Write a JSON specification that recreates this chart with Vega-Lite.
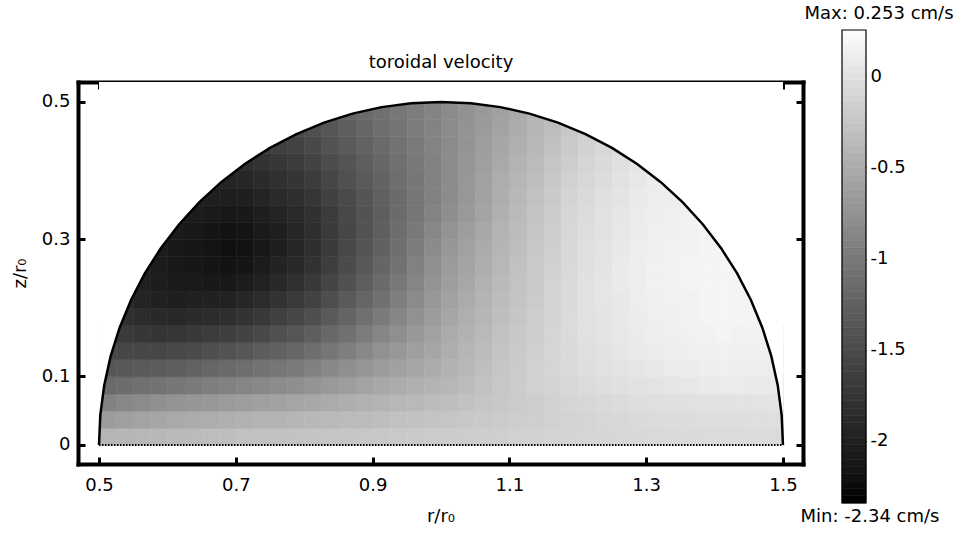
{
"$schema":"https://vega.github.io/schema/vega-lite/v6.json",
"padding":{"left":11,"top":5,"right":2,"bottom":2},
"background":"white",
"width":725,"height":382,
"config":{"font":"DejaVu Sans","view":{"stroke":null},
"axis":{"labelFont":"DejaVu Sans","titleFont":"DejaVu Sans","labelFontSize":18,"titleFontSize":18,"titleFontWeight":"normal","labelColor":"#000","titleColor":"#000","domainColor":"#000","tickColor":"#000","grid":false,"zindex":1}},
"resolve":{"scale":{"x":"independent","y":"independent","color":"independent","stroke":"independent"},"axis":{"x":"independent","y":"independent"}},
"datasets":{
"arc":[{"x":0.5,"z":0},{"x":0.5019,"z":0.04358},{"x":0.5076,"z":0.08682},{"x":0.51704,"z":0.12941},{"x":0.53015,"z":0.17101},{"x":0.54685,"z":0.21131},{"x":0.56699,"z":0.25},{"x":0.59042,"z":0.28679},{"x":0.61698,"z":0.32139},{"x":0.64645,"z":0.35355},{"x":0.67861,"z":0.38302},{"x":0.71321,"z":0.40958},{"x":0.75,"z":0.43301},{"x":0.78869,"z":0.45315},{"x":0.82899,"z":0.46985},{"x":0.87059,"z":0.48296},{"x":0.91318,"z":0.4924},{"x":0.95642,"z":0.4981},{"x":1.0,"z":0.5},{"x":1.04358,"z":0.4981},{"x":1.08682,"z":0.4924},{"x":1.12941,"z":0.48296},{"x":1.17101,"z":0.46985},{"x":1.21131,"z":0.45315},{"x":1.25,"z":0.43301},{"x":1.28679,"z":0.40958},{"x":1.32139,"z":0.38302},{"x":1.35355,"z":0.35355},{"x":1.38302,"z":0.32139},{"x":1.40958,"z":0.28679},{"x":1.43301,"z":0.25},{"x":1.45315,"z":0.21131},{"x":1.46985,"z":0.17101},{"x":1.48296,"z":0.12941},{"x":1.4924,"z":0.08682},{"x":1.4981,"z":0.04358},{"x":1.5,"z":0}],
"base":[{"x":0.5,"z":0},{"x":1.5,"z":0}],
"cells":[
{"x":0.5125,"z":0.0125,"v":-0.43},{"x":0.5375,"z":0.0125,"v":-0.42},{"x":0.5625,"z":0.0125,"v":-0.41},{"x":0.5875,"z":0.0125,"v":-0.4},{"x":0.6125,"z":0.0125,"v":-0.38},{"x":0.6375,"z":0.0125,"v":-0.37},{"x":0.6625,"z":0.0125,"v":-0.35},{"x":0.6875,"z":0.0125,"v":-0.34},{"x":0.7125,"z":0.0125,"v":-0.32},{"x":0.7375,"z":0.0125,"v":-0.32},{"x":0.7625,"z":0.0125,"v":-0.31},{"x":0.7875,"z":0.0125,"v":-0.3},{"x":0.8125,"z":0.0125,"v":-0.29},{"x":0.8375,"z":0.0125,"v":-0.28},{"x":0.8625,"z":0.0125,"v":-0.27},{"x":0.8875,"z":0.0125,"v":-0.26},{"x":0.9125,"z":0.0125,"v":-0.25},{"x":0.9375,"z":0.0125,"v":-0.24},{"x":0.9625,"z":0.0125,"v":-0.23},{"x":0.9875,"z":0.0125,"v":-0.22},{"x":1.0125,"z":0.0125,"v":-0.21},{"x":1.0375,"z":0.0125,"v":-0.2},{"x":1.0625,"z":0.0125,"v":-0.19},{"x":1.0875,"z":0.0125,"v":-0.18},{"x":1.1125,"z":0.0125,"v":-0.17},{"x":1.1375,"z":0.0125,"v":-0.16},{"x":1.1625,"z":0.0125,"v":-0.15},{"x":1.1875,"z":0.0125,"v":-0.14},{"x":1.2125,"z":0.0125,"v":-0.13},{"x":1.2375,"z":0.0125,"v":-0.12},{"x":1.2625,"z":0.0125,"v":-0.11},{"x":1.2875,"z":0.0125,"v":-0.1},{"x":1.3125,"z":0.0125,"v":-0.09},{"x":1.3375,"z":0.0125,"v":-0.08},{"x":1.3625,"z":0.0125,"v":-0.08},{"x":1.3875,"z":0.0125,"v":-0.07},{"x":1.4125,"z":0.0125,"v":-0.07},{"x":1.4375,"z":0.0125,"v":-0.07},{"x":1.4625,"z":0.0125,"v":-0.07},{"x":1.4875,"z":0.0125,"v":-0.07},
{"x":0.5125,"z":0.0375,"v":-0.67},{"x":0.5375,"z":0.0375,"v":-0.64},{"x":0.5625,"z":0.0375,"v":-0.6},{"x":0.5875,"z":0.0375,"v":-0.57},{"x":0.6125,"z":0.0375,"v":-0.54},{"x":0.6375,"z":0.0375,"v":-0.52},{"x":0.6625,"z":0.0375,"v":-0.51},{"x":0.6875,"z":0.0375,"v":-0.49},{"x":0.7125,"z":0.0375,"v":-0.47},{"x":0.7375,"z":0.0375,"v":-0.45},{"x":0.7625,"z":0.0375,"v":-0.44},{"x":0.7875,"z":0.0375,"v":-0.42},{"x":0.8125,"z":0.0375,"v":-0.4},{"x":0.8375,"z":0.0375,"v":-0.39},{"x":0.8625,"z":0.0375,"v":-0.37},{"x":0.8875,"z":0.0375,"v":-0.36},{"x":0.9125,"z":0.0375,"v":-0.34},{"x":0.9375,"z":0.0375,"v":-0.32},{"x":0.9625,"z":0.0375,"v":-0.31},{"x":0.9875,"z":0.0375,"v":-0.29},{"x":1.0125,"z":0.0375,"v":-0.27},{"x":1.0375,"z":0.0375,"v":-0.25},{"x":1.0625,"z":0.0375,"v":-0.24},{"x":1.0875,"z":0.0375,"v":-0.22},{"x":1.1125,"z":0.0375,"v":-0.2},{"x":1.1375,"z":0.0375,"v":-0.18},{"x":1.1625,"z":0.0375,"v":-0.17},{"x":1.1875,"z":0.0375,"v":-0.15},{"x":1.2125,"z":0.0375,"v":-0.13},{"x":1.2375,"z":0.0375,"v":-0.11},{"x":1.2625,"z":0.0375,"v":-0.1},{"x":1.2875,"z":0.0375,"v":-0.08},{"x":1.3125,"z":0.0375,"v":-0.07},{"x":1.3375,"z":0.0375,"v":-0.06},{"x":1.3625,"z":0.0375,"v":-0.06},{"x":1.3875,"z":0.0375,"v":-0.05},{"x":1.4125,"z":0.0375,"v":-0.05},{"x":1.4375,"z":0.0375,"v":-0.05},{"x":1.4625,"z":0.0375,"v":-0.04},{"x":1.4875,"z":0.0375,"v":-0.04},
{"x":0.5125,"z":0.0625,"v":-0.93},{"x":0.5375,"z":0.0625,"v":-0.88},{"x":0.5625,"z":0.0625,"v":-0.84},{"x":0.5875,"z":0.0625,"v":-0.79},{"x":0.6125,"z":0.0625,"v":-0.76},{"x":0.6375,"z":0.0625,"v":-0.73},{"x":0.6625,"z":0.0625,"v":-0.71},{"x":0.6875,"z":0.0625,"v":-0.68},{"x":0.7125,"z":0.0625,"v":-0.66},{"x":0.7375,"z":0.0625,"v":-0.63},{"x":0.7625,"z":0.0625,"v":-0.61},{"x":0.7875,"z":0.0625,"v":-0.58},{"x":0.8125,"z":0.0625,"v":-0.56},{"x":0.8375,"z":0.0625,"v":-0.53},{"x":0.8625,"z":0.0625,"v":-0.5},{"x":0.8875,"z":0.0625,"v":-0.47},{"x":0.9125,"z":0.0625,"v":-0.44},{"x":0.9375,"z":0.0625,"v":-0.41},{"x":0.9625,"z":0.0625,"v":-0.39},{"x":0.9875,"z":0.0625,"v":-0.36},{"x":1.0125,"z":0.0625,"v":-0.34},{"x":1.0375,"z":0.0625,"v":-0.31},{"x":1.0625,"z":0.0625,"v":-0.28},{"x":1.0875,"z":0.0625,"v":-0.25},{"x":1.1125,"z":0.0625,"v":-0.22},{"x":1.1375,"z":0.0625,"v":-0.19},{"x":1.1625,"z":0.0625,"v":-0.16},{"x":1.1875,"z":0.0625,"v":-0.13},{"x":1.2125,"z":0.0625,"v":-0.11},{"x":1.2375,"z":0.0625,"v":-0.09},{"x":1.2625,"z":0.0625,"v":-0.07},{"x":1.2875,"z":0.0625,"v":-0.05},{"x":1.3125,"z":0.0625,"v":-0.04},{"x":1.3375,"z":0.0625,"v":-0.03},{"x":1.3625,"z":0.0625,"v":-0.02},{"x":1.3875,"z":0.0625,"v":-0.01},{"x":1.4125,"z":0.0625,"v":-0.01},{"x":1.4375,"z":0.0625,"v":0.0},{"x":1.4625,"z":0.0625,"v":0.0},{"x":1.4875,"z":0.0625,"v":0.01},
{"x":0.5125,"z":0.0875,"v":-1.18},{"x":0.5375,"z":0.0875,"v":-1.15},{"x":0.5625,"z":0.0875,"v":-1.11},{"x":0.5875,"z":0.0875,"v":-1.08},{"x":0.6125,"z":0.0875,"v":-1.04},{"x":0.6375,"z":0.0875,"v":-1.01},{"x":0.6625,"z":0.0875,"v":-0.97},{"x":0.6875,"z":0.0875,"v":-0.94},{"x":0.7125,"z":0.0875,"v":-0.9},{"x":0.7375,"z":0.0875,"v":-0.87},{"x":0.7625,"z":0.0875,"v":-0.83},{"x":0.7875,"z":0.0875,"v":-0.8},{"x":0.8125,"z":0.0875,"v":-0.75},{"x":0.8375,"z":0.0875,"v":-0.7},{"x":0.8625,"z":0.0875,"v":-0.65},{"x":0.8875,"z":0.0875,"v":-0.6},{"x":0.9125,"z":0.0875,"v":-0.55},{"x":0.9375,"z":0.0875,"v":-0.52},{"x":0.9625,"z":0.0875,"v":-0.48},{"x":0.9875,"z":0.0875,"v":-0.45},{"x":1.0125,"z":0.0875,"v":-0.41},{"x":1.0375,"z":0.0875,"v":-0.36},{"x":1.0625,"z":0.0875,"v":-0.31},{"x":1.0875,"z":0.0875,"v":-0.26},{"x":1.1125,"z":0.0875,"v":-0.21},{"x":1.1375,"z":0.0875,"v":-0.17},{"x":1.1625,"z":0.0875,"v":-0.14},{"x":1.1875,"z":0.0875,"v":-0.1},{"x":1.2125,"z":0.0875,"v":-0.07},{"x":1.2375,"z":0.0875,"v":-0.05},{"x":1.2625,"z":0.0875,"v":-0.03},{"x":1.2875,"z":0.0875,"v":-0.01},{"x":1.3125,"z":0.0875,"v":0.01},{"x":1.3375,"z":0.0875,"v":0.03},{"x":1.3625,"z":0.0875,"v":0.04},{"x":1.3875,"z":0.0875,"v":0.06},{"x":1.4125,"z":0.0875,"v":0.07},{"x":1.4375,"z":0.0875,"v":0.07},{"x":1.4625,"z":0.0875,"v":0.06},{"x":1.4875,"z":0.0875,"v":0.06},
{"x":0.5125,"z":0.1125,"v":-1.39},{"x":0.5375,"z":0.1125,"v":-1.37},{"x":0.5625,"z":0.1125,"v":-1.35},{"x":0.5875,"z":0.1125,"v":-1.33},{"x":0.6125,"z":0.1125,"v":-1.3},{"x":0.6375,"z":0.1125,"v":-1.26},{"x":0.6625,"z":0.1125,"v":-1.22},{"x":0.6875,"z":0.1125,"v":-1.18},{"x":0.7125,"z":0.1125,"v":-1.14},{"x":0.7375,"z":0.1125,"v":-1.09},{"x":0.7625,"z":0.1125,"v":-1.05},{"x":0.7875,"z":0.1125,"v":-1.0},{"x":0.8125,"z":0.1125,"v":-0.94},{"x":0.8375,"z":0.1125,"v":-0.87},{"x":0.8625,"z":0.1125,"v":-0.8},{"x":0.8875,"z":0.1125,"v":-0.73},{"x":0.9125,"z":0.1125,"v":-0.67},{"x":0.9375,"z":0.1125,"v":-0.62},{"x":0.9625,"z":0.1125,"v":-0.57},{"x":0.9875,"z":0.1125,"v":-0.52},{"x":1.0125,"z":0.1125,"v":-0.46},{"x":1.0375,"z":0.1125,"v":-0.4},{"x":1.0625,"z":0.1125,"v":-0.33},{"x":1.0875,"z":0.1125,"v":-0.27},{"x":1.1125,"z":0.1125,"v":-0.22},{"x":1.1375,"z":0.1125,"v":-0.17},{"x":1.1625,"z":0.1125,"v":-0.13},{"x":1.1875,"z":0.1125,"v":-0.08},{"x":1.2125,"z":0.1125,"v":-0.05},{"x":1.2375,"z":0.1125,"v":-0.02},{"x":1.2625,"z":0.1125,"v":0.0},{"x":1.2875,"z":0.1125,"v":0.03},{"x":1.3125,"z":0.1125,"v":0.05},{"x":1.3375,"z":0.1125,"v":0.07},{"x":1.3625,"z":0.1125,"v":0.08},{"x":1.3875,"z":0.1125,"v":0.1},{"x":1.4125,"z":0.1125,"v":0.11},{"x":1.4375,"z":0.1125,"v":0.1},{"x":1.4625,"z":0.1125,"v":0.1},{"x":1.4875,"z":0.1125,"v":0.09},
{"x":0.5125,"z":0.1375,"v":-1.55},{"x":0.5375,"z":0.1375,"v":-1.56},{"x":0.5625,"z":0.1375,"v":-1.56},{"x":0.5875,"z":0.1375,"v":-1.57},{"x":0.6125,"z":0.1375,"v":-1.55},{"x":0.6375,"z":0.1375,"v":-1.51},{"x":0.6625,"z":0.1375,"v":-1.47},{"x":0.6875,"z":0.1375,"v":-1.43},{"x":0.7125,"z":0.1375,"v":-1.38},{"x":0.7375,"z":0.1375,"v":-1.32},{"x":0.7625,"z":0.1375,"v":-1.27},{"x":0.7875,"z":0.1375,"v":-1.21},{"x":0.8125,"z":0.1375,"v":-1.14},{"x":0.8375,"z":0.1375,"v":-1.05},{"x":0.8625,"z":0.1375,"v":-0.96},{"x":0.8875,"z":0.1375,"v":-0.87},{"x":0.9125,"z":0.1375,"v":-0.78},{"x":0.9375,"z":0.1375,"v":-0.71},{"x":0.9625,"z":0.1375,"v":-0.64},{"x":0.9875,"z":0.1375,"v":-0.57},{"x":1.0125,"z":0.1375,"v":-0.5},{"x":1.0375,"z":0.1375,"v":-0.43},{"x":1.0625,"z":0.1375,"v":-0.36},{"x":1.0875,"z":0.1375,"v":-0.29},{"x":1.1125,"z":0.1375,"v":-0.23},{"x":1.1375,"z":0.1375,"v":-0.18},{"x":1.1625,"z":0.1375,"v":-0.13},{"x":1.1875,"z":0.1375,"v":-0.08},{"x":1.2125,"z":0.1375,"v":-0.04},{"x":1.2375,"z":0.1375,"v":-0.01},{"x":1.2625,"z":0.1375,"v":0.03},{"x":1.2875,"z":0.1375,"v":0.06},{"x":1.3125,"z":0.1375,"v":0.08},{"x":1.3375,"z":0.1375,"v":0.09},{"x":1.3625,"z":0.1375,"v":0.11},{"x":1.3875,"z":0.1375,"v":0.12},{"x":1.4125,"z":0.1375,"v":0.13},{"x":1.4375,"z":0.1375,"v":0.12},{"x":1.4625,"z":0.1375,"v":0.12},{"x":1.4875,"z":0.1375,"v":0.11},
{"x":0.5125,"z":0.1625,"v":-1.69},{"x":0.5375,"z":0.1625,"v":-1.71},{"x":0.5625,"z":0.1625,"v":-1.74},{"x":0.5875,"z":0.1625,"v":-1.76},{"x":0.6125,"z":0.1625,"v":-1.75},{"x":0.6375,"z":0.1625,"v":-1.72},{"x":0.6625,"z":0.1625,"v":-1.68},{"x":0.6875,"z":0.1625,"v":-1.65},{"x":0.7125,"z":0.1625,"v":-1.6},{"x":0.7375,"z":0.1625,"v":-1.53},{"x":0.7625,"z":0.1625,"v":-1.46},{"x":0.7875,"z":0.1625,"v":-1.39},{"x":0.8125,"z":0.1625,"v":-1.31},{"x":0.8375,"z":0.1625,"v":-1.2},{"x":0.8625,"z":0.1625,"v":-1.1},{"x":0.8875,"z":0.1625,"v":-0.99},{"x":0.9125,"z":0.1625,"v":-0.89},{"x":0.9375,"z":0.1625,"v":-0.8},{"x":0.9625,"z":0.1625,"v":-0.71},{"x":0.9875,"z":0.1625,"v":-0.62},{"x":1.0125,"z":0.1625,"v":-0.53},{"x":1.0375,"z":0.1625,"v":-0.46},{"x":1.0625,"z":0.1625,"v":-0.39},{"x":1.0875,"z":0.1625,"v":-0.32},{"x":1.1125,"z":0.1625,"v":-0.25},{"x":1.1375,"z":0.1625,"v":-0.19},{"x":1.1625,"z":0.1625,"v":-0.13},{"x":1.1875,"z":0.1625,"v":-0.07},{"x":1.2125,"z":0.1625,"v":-0.02},{"x":1.2375,"z":0.1625,"v":0.01},{"x":1.2625,"z":0.1625,"v":0.04},{"x":1.2875,"z":0.1625,"v":0.07},{"x":1.3125,"z":0.1625,"v":0.1},{"x":1.3375,"z":0.1625,"v":0.11},{"x":1.3625,"z":0.1625,"v":0.13},{"x":1.3875,"z":0.1625,"v":0.14},{"x":1.4125,"z":0.1625,"v":0.15},{"x":1.4375,"z":0.1625,"v":0.14},{"x":1.4625,"z":0.1625,"v":0.14},{"x":1.4875,"z":0.1625,"v":0.13},
{"x":0.5375,"z":0.1875,"v":-1.84},{"x":0.5625,"z":0.1875,"v":-1.87},{"x":0.5875,"z":0.1875,"v":-1.91},{"x":0.6125,"z":0.1875,"v":-1.92},{"x":0.6375,"z":0.1875,"v":-1.89},{"x":0.6625,"z":0.1875,"v":-1.87},{"x":0.6875,"z":0.1875,"v":-1.84},{"x":0.7125,"z":0.1875,"v":-1.79},{"x":0.7375,"z":0.1875,"v":-1.72},{"x":0.7625,"z":0.1875,"v":-1.64},{"x":0.7875,"z":0.1875,"v":-1.57},{"x":0.8125,"z":0.1875,"v":-1.47},{"x":0.8375,"z":0.1875,"v":-1.35},{"x":0.8625,"z":0.1875,"v":-1.24},{"x":0.8875,"z":0.1875,"v":-1.12},{"x":0.9125,"z":0.1875,"v":-1.0},{"x":0.9375,"z":0.1875,"v":-0.89},{"x":0.9625,"z":0.1875,"v":-0.78},{"x":0.9875,"z":0.1875,"v":-0.67},{"x":1.0125,"z":0.1875,"v":-0.57},{"x":1.0375,"z":0.1875,"v":-0.49},{"x":1.0625,"z":0.1875,"v":-0.42},{"x":1.0875,"z":0.1875,"v":-0.34},{"x":1.1125,"z":0.1875,"v":-0.27},{"x":1.1375,"z":0.1875,"v":-0.2},{"x":1.1625,"z":0.1875,"v":-0.14},{"x":1.1875,"z":0.1875,"v":-0.07},{"x":1.2125,"z":0.1875,"v":-0.02},{"x":1.2375,"z":0.1875,"v":0.01},{"x":1.2625,"z":0.1875,"v":0.05},{"x":1.2875,"z":0.1875,"v":0.08},{"x":1.3125,"z":0.1875,"v":0.11},{"x":1.3375,"z":0.1875,"v":0.12},{"x":1.3625,"z":0.1875,"v":0.14},{"x":1.3875,"z":0.1875,"v":0.15},{"x":1.4125,"z":0.1875,"v":0.16},{"x":1.4375,"z":0.1875,"v":0.15},{"x":1.4625,"z":0.1875,"v":0.15},
{"x":0.5375,"z":0.2125,"v":-1.92},{"x":0.5625,"z":0.2125,"v":-1.97},{"x":0.5875,"z":0.2125,"v":-2.01},{"x":0.6125,"z":0.2125,"v":-2.03},{"x":0.6375,"z":0.2125,"v":-2.02},{"x":0.6625,"z":0.2125,"v":-2.01},{"x":0.6875,"z":0.2125,"v":-2.0},{"x":0.7125,"z":0.2125,"v":-1.95},{"x":0.7375,"z":0.2125,"v":-1.87},{"x":0.7625,"z":0.2125,"v":-1.79},{"x":0.7875,"z":0.2125,"v":-1.71},{"x":0.8125,"z":0.2125,"v":-1.61},{"x":0.8375,"z":0.2125,"v":-1.48},{"x":0.8625,"z":0.2125,"v":-1.35},{"x":0.8875,"z":0.2125,"v":-1.22},{"x":0.9125,"z":0.2125,"v":-1.1},{"x":0.9375,"z":0.2125,"v":-0.97},{"x":0.9625,"z":0.2125,"v":-0.84},{"x":0.9875,"z":0.2125,"v":-0.71},{"x":1.0125,"z":0.2125,"v":-0.61},{"x":1.0375,"z":0.2125,"v":-0.53},{"x":1.0625,"z":0.2125,"v":-0.44},{"x":1.0875,"z":0.2125,"v":-0.36},{"x":1.1125,"z":0.2125,"v":-0.29},{"x":1.1375,"z":0.2125,"v":-0.22},{"x":1.1625,"z":0.2125,"v":-0.15},{"x":1.1875,"z":0.2125,"v":-0.08},{"x":1.2125,"z":0.2125,"v":-0.02},{"x":1.2375,"z":0.2125,"v":0.02},{"x":1.2625,"z":0.2125,"v":0.05},{"x":1.2875,"z":0.2125,"v":0.09},{"x":1.3125,"z":0.2125,"v":0.12},{"x":1.3375,"z":0.2125,"v":0.13},{"x":1.3625,"z":0.2125,"v":0.14},{"x":1.3875,"z":0.2125,"v":0.15},{"x":1.4125,"z":0.2125,"v":0.16},{"x":1.4375,"z":0.2125,"v":0.15},{"x":1.4625,"z":0.2125,"v":0.15},
{"x":0.5625,"z":0.2375,"v":-2.02},{"x":0.5875,"z":0.2375,"v":-2.06},{"x":0.6125,"z":0.2375,"v":-2.09},{"x":0.6375,"z":0.2375,"v":-2.1},{"x":0.6625,"z":0.2375,"v":-2.11},{"x":0.6875,"z":0.2375,"v":-2.12},{"x":0.7125,"z":0.2375,"v":-2.08},{"x":0.7375,"z":0.2375,"v":-2.0},{"x":0.7625,"z":0.2375,"v":-1.91},{"x":0.7875,"z":0.2375,"v":-1.83},{"x":0.8125,"z":0.2375,"v":-1.72},{"x":0.8375,"z":0.2375,"v":-1.58},{"x":0.8625,"z":0.2375,"v":-1.45},{"x":0.8875,"z":0.2375,"v":-1.31},{"x":0.9125,"z":0.2375,"v":-1.17},{"x":0.9375,"z":0.2375,"v":-1.03},{"x":0.9625,"z":0.2375,"v":-0.9},{"x":0.9875,"z":0.2375,"v":-0.76},{"x":1.0125,"z":0.2375,"v":-0.65},{"x":1.0375,"z":0.2375,"v":-0.56},{"x":1.0625,"z":0.2375,"v":-0.47},{"x":1.0875,"z":0.2375,"v":-0.38},{"x":1.1125,"z":0.2375,"v":-0.3},{"x":1.1375,"z":0.2375,"v":-0.23},{"x":1.1625,"z":0.2375,"v":-0.15},{"x":1.1875,"z":0.2375,"v":-0.08},{"x":1.2125,"z":0.2375,"v":-0.02},{"x":1.2375,"z":0.2375,"v":0.02},{"x":1.2625,"z":0.2375,"v":0.06},{"x":1.2875,"z":0.2375,"v":0.1},{"x":1.3125,"z":0.2375,"v":0.13},{"x":1.3375,"z":0.2375,"v":0.14},{"x":1.3625,"z":0.2375,"v":0.15},{"x":1.3875,"z":0.2375,"v":0.16},{"x":1.4125,"z":0.2375,"v":0.16},{"x":1.4375,"z":0.2375,"v":0.15},
{"x":0.5625,"z":0.2625,"v":-2.04},{"x":0.5875,"z":0.2625,"v":-2.08},{"x":0.6125,"z":0.2625,"v":-2.11},{"x":0.6375,"z":0.2625,"v":-2.14},{"x":0.6625,"z":0.2625,"v":-2.16},{"x":0.6875,"z":0.2625,"v":-2.19},{"x":0.7125,"z":0.2625,"v":-2.16},{"x":0.7375,"z":0.2625,"v":-2.08},{"x":0.7625,"z":0.2625,"v":-1.99},{"x":0.7875,"z":0.2625,"v":-1.91},{"x":0.8125,"z":0.2625,"v":-1.8},{"x":0.8375,"z":0.2625,"v":-1.66},{"x":0.8625,"z":0.2625,"v":-1.51},{"x":0.8875,"z":0.2625,"v":-1.37},{"x":0.9125,"z":0.2625,"v":-1.23},{"x":0.9375,"z":0.2625,"v":-1.09},{"x":0.9625,"z":0.2625,"v":-0.94},{"x":0.9875,"z":0.2625,"v":-0.8},{"x":1.0125,"z":0.2625,"v":-0.68},{"x":1.0375,"z":0.2625,"v":-0.59},{"x":1.0625,"z":0.2625,"v":-0.5},{"x":1.0875,"z":0.2625,"v":-0.41},{"x":1.1125,"z":0.2625,"v":-0.32},{"x":1.1375,"z":0.2625,"v":-0.24},{"x":1.1625,"z":0.2625,"v":-0.17},{"x":1.1875,"z":0.2625,"v":-0.09},{"x":1.2125,"z":0.2625,"v":-0.03},{"x":1.2375,"z":0.2625,"v":0.01},{"x":1.2625,"z":0.2625,"v":0.06},{"x":1.2875,"z":0.2625,"v":0.1},{"x":1.3125,"z":0.2625,"v":0.13},{"x":1.3375,"z":0.2625,"v":0.14},{"x":1.3625,"z":0.2625,"v":0.15},{"x":1.3875,"z":0.2625,"v":0.16},{"x":1.4125,"z":0.2625,"v":0.16},{"x":1.4375,"z":0.2625,"v":0.15},
{"x":0.5875,"z":0.2875,"v":-2.07},{"x":0.6125,"z":0.2875,"v":-2.11},{"x":0.6375,"z":0.2875,"v":-2.15},{"x":0.6625,"z":0.2875,"v":-2.18},{"x":0.6875,"z":0.2875,"v":-2.22},{"x":0.7125,"z":0.2875,"v":-2.2},{"x":0.7375,"z":0.2875,"v":-2.12},{"x":0.7625,"z":0.2875,"v":-2.03},{"x":0.7875,"z":0.2875,"v":-1.95},{"x":0.8125,"z":0.2875,"v":-1.84},{"x":0.8375,"z":0.2875,"v":-1.7},{"x":0.8625,"z":0.2875,"v":-1.55},{"x":0.8875,"z":0.2875,"v":-1.41},{"x":0.9125,"z":0.2875,"v":-1.27},{"x":0.9375,"z":0.2875,"v":-1.13},{"x":0.9625,"z":0.2875,"v":-0.98},{"x":0.9875,"z":0.2875,"v":-0.84},{"x":1.0125,"z":0.2875,"v":-0.72},{"x":1.0375,"z":0.2875,"v":-0.62},{"x":1.0625,"z":0.2875,"v":-0.53},{"x":1.0875,"z":0.2875,"v":-0.43},{"x":1.1125,"z":0.2875,"v":-0.34},{"x":1.1375,"z":0.2875,"v":-0.26},{"x":1.1625,"z":0.2875,"v":-0.18},{"x":1.1875,"z":0.2875,"v":-0.1},{"x":1.2125,"z":0.2875,"v":-0.04},{"x":1.2375,"z":0.2875,"v":0.0},{"x":1.2625,"z":0.2875,"v":0.05},{"x":1.2875,"z":0.2875,"v":0.09},{"x":1.3125,"z":0.2875,"v":0.12},{"x":1.3375,"z":0.2875,"v":0.13},{"x":1.3625,"z":0.2875,"v":0.14},{"x":1.3875,"z":0.2875,"v":0.15},{"x":1.4125,"z":0.2875,"v":0.16},
{"x":0.6125,"z":0.3125,"v":-2.09},{"x":0.6375,"z":0.3125,"v":-2.13},{"x":0.6625,"z":0.3125,"v":-2.16},{"x":0.6875,"z":0.3125,"v":-2.2},{"x":0.7125,"z":0.3125,"v":-2.18},{"x":0.7375,"z":0.3125,"v":-2.1},{"x":0.7625,"z":0.3125,"v":-2.03},{"x":0.7875,"z":0.3125,"v":-1.95},{"x":0.8125,"z":0.3125,"v":-1.84},{"x":0.8375,"z":0.3125,"v":-1.7},{"x":0.8625,"z":0.3125,"v":-1.57},{"x":0.8875,"z":0.3125,"v":-1.43},{"x":0.9125,"z":0.3125,"v":-1.29},{"x":0.9375,"z":0.3125,"v":-1.15},{"x":0.9625,"z":0.3125,"v":-1.02},{"x":0.9875,"z":0.3125,"v":-0.88},{"x":1.0125,"z":0.3125,"v":-0.76},{"x":1.0375,"z":0.3125,"v":-0.66},{"x":1.0625,"z":0.3125,"v":-0.55},{"x":1.0875,"z":0.3125,"v":-0.45},{"x":1.1125,"z":0.3125,"v":-0.36},{"x":1.1375,"z":0.3125,"v":-0.28},{"x":1.1625,"z":0.3125,"v":-0.19},{"x":1.1875,"z":0.3125,"v":-0.11},{"x":1.2125,"z":0.3125,"v":-0.05},{"x":1.2375,"z":0.3125,"v":-0.01},{"x":1.2625,"z":0.3125,"v":0.04},{"x":1.2875,"z":0.3125,"v":0.08},{"x":1.3125,"z":0.3125,"v":0.11},{"x":1.3375,"z":0.3125,"v":0.12},{"x":1.3625,"z":0.3125,"v":0.14},{"x":1.3875,"z":0.3125,"v":0.15},
{"x":0.6125,"z":0.3375,"v":-2.05},{"x":0.6375,"z":0.3375,"v":-2.08},{"x":0.6625,"z":0.3375,"v":-2.1},{"x":0.6875,"z":0.3375,"v":-2.13},{"x":0.7125,"z":0.3375,"v":-2.11},{"x":0.7375,"z":0.3375,"v":-2.04},{"x":0.7625,"z":0.3375,"v":-1.97},{"x":0.7875,"z":0.3375,"v":-1.9},{"x":0.8125,"z":0.3375,"v":-1.81},{"x":0.8375,"z":0.3375,"v":-1.68},{"x":0.8625,"z":0.3375,"v":-1.55},{"x":0.8875,"z":0.3375,"v":-1.42},{"x":0.9125,"z":0.3375,"v":-1.3},{"x":0.9375,"z":0.3375,"v":-1.17},{"x":0.9625,"z":0.3375,"v":-1.05},{"x":0.9875,"z":0.3375,"v":-0.92},{"x":1.0125,"z":0.3375,"v":-0.81},{"x":1.0375,"z":0.3375,"v":-0.7},{"x":1.0625,"z":0.3375,"v":-0.59},{"x":1.0875,"z":0.3375,"v":-0.48},{"x":1.1125,"z":0.3375,"v":-0.38},{"x":1.1375,"z":0.3375,"v":-0.29},{"x":1.1625,"z":0.3375,"v":-0.21},{"x":1.1875,"z":0.3375,"v":-0.12},{"x":1.2125,"z":0.3375,"v":-0.06},{"x":1.2375,"z":0.3375,"v":-0.02},{"x":1.2625,"z":0.3375,"v":0.03},{"x":1.2875,"z":0.3375,"v":0.07},{"x":1.3125,"z":0.3375,"v":0.1},{"x":1.3375,"z":0.3375,"v":0.11},{"x":1.3625,"z":0.3375,"v":0.13},{"x":1.3875,"z":0.3375,"v":0.14},
{"x":0.6375,"z":0.3625,"v":-2.03},{"x":0.6625,"z":0.3625,"v":-2.04},{"x":0.6875,"z":0.3625,"v":-2.05},{"x":0.7125,"z":0.3625,"v":-2.03},{"x":0.7375,"z":0.3625,"v":-1.97},{"x":0.7625,"z":0.3625,"v":-1.9},{"x":0.7875,"z":0.3625,"v":-1.84},{"x":0.8125,"z":0.3625,"v":-1.75},{"x":0.8375,"z":0.3625,"v":-1.63},{"x":0.8625,"z":0.3625,"v":-1.52},{"x":0.8875,"z":0.3625,"v":-1.4},{"x":0.9125,"z":0.3625,"v":-1.28},{"x":0.9375,"z":0.3625,"v":-1.17},{"x":0.9625,"z":0.3625,"v":-1.05},{"x":0.9875,"z":0.3625,"v":-0.94},{"x":1.0125,"z":0.3625,"v":-0.83},{"x":1.0375,"z":0.3625,"v":-0.72},{"x":1.0625,"z":0.3625,"v":-0.61},{"x":1.0875,"z":0.3625,"v":-0.5},{"x":1.1125,"z":0.3625,"v":-0.4},{"x":1.1375,"z":0.3625,"v":-0.31},{"x":1.1625,"z":0.3625,"v":-0.23},{"x":1.1875,"z":0.3625,"v":-0.14},{"x":1.2125,"z":0.3625,"v":-0.08},{"x":1.2375,"z":0.3625,"v":-0.03},{"x":1.2625,"z":0.3625,"v":0.01},{"x":1.2875,"z":0.3625,"v":0.06},{"x":1.3125,"z":0.3625,"v":0.09},{"x":1.3375,"z":0.3625,"v":0.1},{"x":1.3625,"z":0.3625,"v":0.11},
{"x":0.6625,"z":0.3875,"v":-1.97},{"x":0.6875,"z":0.3875,"v":-1.97},{"x":0.7125,"z":0.3875,"v":-1.94},{"x":0.7375,"z":0.3875,"v":-1.88},{"x":0.7625,"z":0.3875,"v":-1.82},{"x":0.7875,"z":0.3875,"v":-1.76},{"x":0.8125,"z":0.3875,"v":-1.68},{"x":0.8375,"z":0.3875,"v":-1.57},{"x":0.8625,"z":0.3875,"v":-1.46},{"x":0.8875,"z":0.3875,"v":-1.35},{"x":0.9125,"z":0.3875,"v":-1.25},{"x":0.9375,"z":0.3875,"v":-1.14},{"x":0.9625,"z":0.3875,"v":-1.04},{"x":0.9875,"z":0.3875,"v":-0.93},{"x":1.0125,"z":0.3875,"v":-0.83},{"x":1.0375,"z":0.3875,"v":-0.72},{"x":1.0625,"z":0.3875,"v":-0.62},{"x":1.0875,"z":0.3875,"v":-0.51},{"x":1.1125,"z":0.3875,"v":-0.42},{"x":1.1375,"z":0.3875,"v":-0.34},{"x":1.1625,"z":0.3875,"v":-0.25},{"x":1.1875,"z":0.3875,"v":-0.17},{"x":1.2125,"z":0.3875,"v":-0.11},{"x":1.2375,"z":0.3875,"v":-0.06},{"x":1.2625,"z":0.3875,"v":-0.01},{"x":1.2875,"z":0.3875,"v":0.05},{"x":1.3125,"z":0.3875,"v":0.08},{"x":1.3375,"z":0.3875,"v":0.09},
{"x":0.7125,"z":0.4125,"v":-1.85},{"x":0.7375,"z":0.4125,"v":-1.79},{"x":0.7625,"z":0.4125,"v":-1.74},{"x":0.7875,"z":0.4125,"v":-1.68},{"x":0.8125,"z":0.4125,"v":-1.6},{"x":0.8375,"z":0.4125,"v":-1.5},{"x":0.8625,"z":0.4125,"v":-1.41},{"x":0.8875,"z":0.4125,"v":-1.31},{"x":0.9125,"z":0.4125,"v":-1.21},{"x":0.9375,"z":0.4125,"v":-1.12},{"x":0.9625,"z":0.4125,"v":-1.02},{"x":0.9875,"z":0.4125,"v":-0.93},{"x":1.0125,"z":0.4125,"v":-0.83},{"x":1.0375,"z":0.4125,"v":-0.73},{"x":1.0625,"z":0.4125,"v":-0.64},{"x":1.0875,"z":0.4125,"v":-0.54},{"x":1.1125,"z":0.4125,"v":-0.45},{"x":1.1375,"z":0.4125,"v":-0.37},{"x":1.1625,"z":0.4125,"v":-0.28},{"x":1.1875,"z":0.4125,"v":-0.2},{"x":1.2125,"z":0.4125,"v":-0.13},{"x":1.2375,"z":0.4125,"v":-0.08},{"x":1.2625,"z":0.4125,"v":-0.03},{"x":1.2875,"z":0.4125,"v":0.02},
{"x":0.7375,"z":0.4375,"v":-1.7},{"x":0.7625,"z":0.4375,"v":-1.65},{"x":0.7875,"z":0.4375,"v":-1.6},{"x":0.8125,"z":0.4375,"v":-1.53},{"x":0.8375,"z":0.4375,"v":-1.44},{"x":0.8625,"z":0.4375,"v":-1.35},{"x":0.8875,"z":0.4375,"v":-1.26},{"x":0.9125,"z":0.4375,"v":-1.18},{"x":0.9375,"z":0.4375,"v":-1.09},{"x":0.9625,"z":0.4375,"v":-1.01},{"x":0.9875,"z":0.4375,"v":-0.92},{"x":1.0125,"z":0.4375,"v":-0.84},{"x":1.0375,"z":0.4375,"v":-0.75},{"x":1.0625,"z":0.4375,"v":-0.66},{"x":1.0875,"z":0.4375,"v":-0.57},{"x":1.1125,"z":0.4375,"v":-0.49},{"x":1.1375,"z":0.4375,"v":-0.4},{"x":1.1625,"z":0.4375,"v":-0.32},{"x":1.1875,"z":0.4375,"v":-0.23},{"x":1.2125,"z":0.4375,"v":-0.16},{"x":1.2375,"z":0.4375,"v":-0.11},{"x":1.2625,"z":0.4375,"v":-0.06},
{"x":0.7875,"z":0.4625,"v":-1.54},{"x":0.8125,"z":0.4625,"v":-1.47},{"x":0.8375,"z":0.4625,"v":-1.39},{"x":0.8625,"z":0.4625,"v":-1.3},{"x":0.8875,"z":0.4625,"v":-1.22},{"x":0.9125,"z":0.4625,"v":-1.14},{"x":0.9375,"z":0.4625,"v":-1.07},{"x":0.9625,"z":0.4625,"v":-0.99},{"x":0.9875,"z":0.4625,"v":-0.92},{"x":1.0125,"z":0.4625,"v":-0.84},{"x":1.0375,"z":0.4625,"v":-0.76},{"x":1.0625,"z":0.4625,"v":-0.68},{"x":1.0875,"z":0.4625,"v":-0.6},{"x":1.1125,"z":0.4625,"v":-0.52},{"x":1.1375,"z":0.4625,"v":-0.43},{"x":1.1625,"z":0.4625,"v":-0.35},{"x":1.1875,"z":0.4625,"v":-0.26},{"x":1.2125,"z":0.4625,"v":-0.19},
{"x":0.8375,"z":0.4875,"v":-1.35},{"x":0.8625,"z":0.4875,"v":-1.26},{"x":0.8875,"z":0.4875,"v":-1.18},{"x":0.9125,"z":0.4875,"v":-1.11},{"x":0.9375,"z":0.4875,"v":-1.04},{"x":0.9625,"z":0.4875,"v":-0.98},{"x":0.9875,"z":0.4875,"v":-0.91},{"x":1.0125,"z":0.4875,"v":-0.84},{"x":1.0375,"z":0.4875,"v":-0.77},{"x":1.0625,"z":0.4875,"v":-0.69},{"x":1.0875,"z":0.4875,"v":-0.62},{"x":1.1125,"z":0.4875,"v":-0.54},{"x":1.1375,"z":0.4875,"v":-0.45},{"x":1.1625,"z":0.4875,"v":-0.37}
],
"cb":[{"lo":-2.34,"hi":-2.3},{"lo":-2.3,"hi":-2.26},{"lo":-2.26,"hi":-2.22},{"lo":-2.22,"hi":-2.18},{"lo":-2.18,"hi":-2.14},{"lo":-2.14,"hi":-2.1},{"lo":-2.1,"hi":-2.06},{"lo":-2.06,"hi":-2.02},{"lo":-2.02,"hi":-1.98},{"lo":-1.98,"hi":-1.94},{"lo":-1.94,"hi":-1.9},{"lo":-1.9,"hi":-1.86},{"lo":-1.86,"hi":-1.82},{"lo":-1.82,"hi":-1.78},{"lo":-1.78,"hi":-1.74},{"lo":-1.74,"hi":-1.7},{"lo":-1.7,"hi":-1.66},{"lo":-1.66,"hi":-1.62},{"lo":-1.62,"hi":-1.58},{"lo":-1.58,"hi":-1.54},{"lo":-1.54,"hi":-1.5},{"lo":-1.5,"hi":-1.46},{"lo":-1.46,"hi":-1.42},{"lo":-1.42,"hi":-1.38},{"lo":-1.38,"hi":-1.34},{"lo":-1.34,"hi":-1.3},{"lo":-1.3,"hi":-1.26},{"lo":-1.26,"hi":-1.22},{"lo":-1.22,"hi":-1.18},{"lo":-1.18,"hi":-1.14},{"lo":-1.14,"hi":-1.1},{"lo":-1.1,"hi":-1.06},{"lo":-1.06,"hi":-1.02},{"lo":-1.02,"hi":-0.98},{"lo":-0.98,"hi":-0.94},{"lo":-0.94,"hi":-0.9},{"lo":-0.9,"hi":-0.86},{"lo":-0.86,"hi":-0.82},{"lo":-0.82,"hi":-0.78},{"lo":-0.78,"hi":-0.74},{"lo":-0.74,"hi":-0.7},{"lo":-0.7,"hi":-0.66},{"lo":-0.66,"hi":-0.62},{"lo":-0.62,"hi":-0.58},{"lo":-0.58,"hi":-0.54},{"lo":-0.54,"hi":-0.5},{"lo":-0.5,"hi":-0.46},{"lo":-0.46,"hi":-0.42},{"lo":-0.42,"hi":-0.38},{"lo":-0.38,"hi":-0.34},{"lo":-0.34,"hi":-0.3},{"lo":-0.3,"hi":-0.26},{"lo":-0.26,"hi":-0.22},{"lo":-0.22,"hi":-0.18},{"lo":-0.18,"hi":-0.14},{"lo":-0.14,"hi":-0.1},{"lo":-0.1,"hi":-0.06},{"lo":-0.06,"hi":-0.02},{"lo":-0.02,"hi":0.02},{"lo":0.02,"hi":0.06},{"lo":0.06,"hi":0.1},{"lo":0.1,"hi":0.14},{"lo":0.14,"hi":0.18},{"lo":0.18,"hi":0.22},{"lo":0.22,"hi":0.253}],
"ends":[{"v":0.253,"t":"Max: 0.253 cm/s","p":"max"},{"v":-2.34,"t":"Min: -2.34 cm/s","p":"min"}]
},
"layer":[
{"data":{"name":"cells"},"mark":{"type":"rect","strokeWidth":0.6},
"encoding":{
"x":{"field":"x","type":"quantitative","bin":{"step":0.025,"extent":[0.5,1.5],"nice":false},"scale":{"domain":[0.4693,1.5293],"nice":false,"zero":false},"axis":null},
"y":{"field":"z","type":"quantitative","bin":{"step":0.025,"extent":[0,0.5],"nice":false},"scale":{"domain":[-0.0277,0.529],"nice":false,"zero":false},"axis":null},
"color":{"field":"v","type":"quantitative","scale":{"domain":[-2.34,0.253],"range":["#000000","#ffffff"]},"legend":null},
"stroke":{"field":"v","type":"quantitative","scale":{"domain":[-2.34,0.253],"range":["#000000","#ffffff"]},"legend":null}}},
{"data":{"name":"arc"},"mark":{"type":"area","color":"#ffffff","opacity":1},
"encoding":{
"x":{"field":"x","type":"quantitative","scale":{"domain":[0.4693,1.5293],"nice":false,"zero":false},"axis":null},
"y":{"field":"z","type":"quantitative","scale":{"domain":[-0.0277,0.529],"nice":false,"zero":false},"axis":null},
"y2":{"datum":0.529}}},
{"data":{"name":"base"},"mark":{"type":"line","color":"#000000","strokeWidth":2.2,"strokeDash":[1.5,1.5]},
"encoding":{
"x":{"field":"x","type":"quantitative","scale":{"domain":[0.4693,1.5293],"nice":false,"zero":false},
"axis":{"orient":"top","values":[0.5,0.7,0.9,1.1,1.3,1.5],"labels":false,"title":"toroidal velocity","titlePadding":9,"tickSize":-7,"tickWidth":3,"domainWidth":4,"domainCap":"square"}},
"y":{"field":"z","type":"quantitative","scale":{"domain":[-0.0277,0.529],"nice":false,"zero":false},
"axis":{"orient":"right","values":[0,0.1,0.3,0.5],"labels":false,"title":null,"tickSize":-7,"tickWidth":3,"domainWidth":4,"domainCap":"square"}}}},
{"data":{"name":"arc"},"mark":{"type":"line","color":"#000000","strokeWidth":2.5},
"encoding":{
"x":{"field":"x","type":"quantitative","scale":{"domain":[0.4693,1.5293],"nice":false,"zero":false},
"axis":{"orient":"bottom","values":[0.5,0.7,0.9,1.1,1.3,1.5],"format":".1f","title":"r/r₀","tickSize":-7,"tickWidth":3,"domainWidth":4,"domainCap":"square","labelPadding":19,"titlePadding":13,"labelFlush":false}},
"y":{"field":"z","type":"quantitative","scale":{"domain":[-0.0277,0.529],"nice":false,"zero":false},
"axis":{"orient":"left","values":[0,0.1,0.3,0.5],"labelExpr":"''+datum.value","title":"z/r₀","tickSize":-7,"tickWidth":3,"domainWidth":4,"domainCap":"square","labelPadding":15,"titlePadding":12,"labelFlush":false}}}},
{"data":{"name":"cb"},"mark":{"type":"rect","strokeWidth":0.6},
"encoding":{
"x":{"datum":0,"type":"quantitative","scale":{"domain":[0,1],"range":[764,788],"nice":false,"zero":false},"axis":null},
"x2":{"datum":1},
"y":{"field":"lo","type":"quantitative","scale":{"domain":[-2.34,0.253],"range":[421,-52],"nice":false,"zero":false},
"axis":{"orient":"right","offset":63,"values":[0,-0.5,-1,-1.5,-2],"labelExpr":"''+datum.value","title":null,"domain":false,"tickSize":-3,"tickWidth":1.5,"labelPadding":7}},
"y2":{"field":"hi"},
"color":{"field":"lo","type":"quantitative","scale":{"domain":[-2.34,0.253],"range":["#000000","#ffffff"]},"legend":null},
"stroke":{"field":"lo","type":"quantitative","scale":{"domain":[-2.34,0.253],"range":["#000000","#ffffff"]},"legend":null}}},
{"data":{"values":[{"lo":-2.34,"hi":0.253}]},"mark":{"type":"rect","filled":false,"color":"#000000","strokeWidth":1.2},
"encoding":{
"x":{"datum":0,"type":"quantitative","scale":{"domain":[0,1],"range":[764,788],"nice":false,"zero":false},"axis":null},
"x2":{"datum":1},
"y":{"field":"lo","type":"quantitative","scale":{"domain":[-2.34,0.253],"range":[421,-52],"nice":false,"zero":false},
"axis":{"orient":"right","offset":39,"values":[0,-0.5,-1,-1.5,-2],"labels":false,"title":null,"domain":false,"tickSize":3,"tickWidth":1.5}},
"y2":{"field":"hi"}}},
{"data":{"name":"ends"},"transform":[{"filter":"datum.p == 'max'"}],"mark":{"type":"text","baseline":"alphabetic","dy":-11,"dx":25,"fontSize":18,"font":"DejaVu Sans","color":"#000000"},
"encoding":{
"x":{"datum":0.5,"type":"quantitative","scale":{"domain":[0,1],"range":[764,788],"nice":false,"zero":false},"axis":null},
"y":{"field":"v","type":"quantitative","scale":{"domain":[-2.34,0.253],"range":[421,-52],"nice":false,"zero":false},"axis":null},"text":{"field":"t"}}},
{"data":{"name":"ends"},"transform":[{"filter":"datum.p == 'min'"}],"mark":{"type":"text","baseline":"alphabetic","dy":19,"dx":16,"fontSize":18,"font":"DejaVu Sans","color":"#000000"},
"encoding":{
"x":{"datum":0.5,"type":"quantitative","scale":{"domain":[0,1],"range":[764,788],"nice":false,"zero":false},"axis":null},
"y":{"field":"v","type":"quantitative","scale":{"domain":[-2.34,0.253],"range":[421,-52],"nice":false,"zero":false},"axis":null},"text":{"field":"t"}}}
]
}
